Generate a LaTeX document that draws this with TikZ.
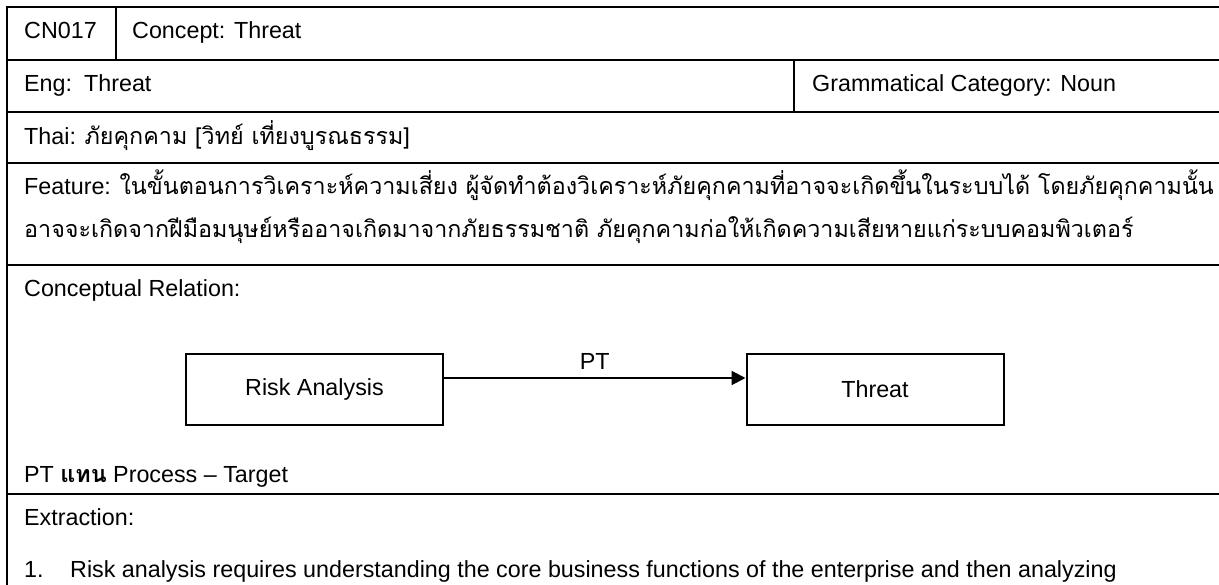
\documentclass[tikz,border=0pt]{standalone}
\usepackage{fontspec}
\setmainfont{Liberation Sans}
\newfontfamily\thaifont[Script=Thai]{Loma}
\usetikzlibrary{arrows.meta}
\begin{document}
\begin{tikzpicture}[x=1pt,y=-1pt,
  txt/.style={anchor=base west, inner sep=0pt, font=\fontsize{23.3}{28}\selectfont},
  rule/.style={line width=2.3pt},
  conceptbox/.style={draw, line width=2pt, minimum width=257pt, minimum height=71pt,
    inner sep=0pt, font=\fontsize{23.3}{28}\selectfont},
  rel/.style={line width=2pt, -{Triangle[length=14pt,width=14pt]}}]
\useasboundingbox (0,0) rectangle (1219,585);

% table rules
\draw[rule] (7,585) -- (7,7) -- (1219,7);
\foreach \yy in {60,112,163,265,494} \draw[rule] (7,\yy) -- (1219,\yy);
\draw[rule] (116,7) -- (116,60);
\draw[rule] (794,60) -- (794,112);

% row texts
\node[txt] (id) at (24,39) {CN017};
\node[txt] (concept) at (132,39) {Concept: Threat};
\node[txt] (eng) at (24,92) {Eng:\hspace{12pt}Threat};
\node[txt] (gram) at (812,92) {Grammatical Category: Noun};
\node[txt] (thai) at (24,145) {Thai: {\thaifont ภัยคุกคาม [วิทย์ เที่ยงบูรณธรรม]}};
\node[txt] (feat1) at (24,195) {Feature: {\thaifont ในขั้นตอนการวิเคราะห์ความเสี่ยง ผู้จัดทำต้องวิเคราะห์ภัยคุกคามที่อาจจะเกิดขึ้นในระบบได้ โดยภัยคุกคามนั้น}};
\node[txt] (feat2) at (24,238) {\thaifont อาจจะเกิดจากฝีมือมนุษย์หรืออาจเกิดมาจากภัยธรรมชาติ ภัยคุกคามก่อให้เกิดความเสียหายแก่ระบบคอมพิวเตอร์};
\node[txt] (crel) at (24,297) {Conceptual Relation:};

% relation diagram
\node[conceptbox] (ra) at (314.5,389.5) {Risk Analysis};
\node[conceptbox] (th) at (875,389.5) {Threat};
\draw[rel] ([yshift=11.5pt]ra.east) -- node[anchor=base, yshift=8pt, inner sep=0pt,
  font=\fontsize{23.3}{28}\selectfont] (pt) {PT} ([yshift=11.5pt]th.west);

\node[txt] (legend) at (24,482) {PT {\thaifont\bfseries แทน} Process – Target};
\node[txt] (extr) at (24,525) {Extraction:};
\node[txt] (num1) at (24,577) {1.};
\node[txt] (item1) at (70,577) {Risk analysis requires understanding the core business functions of the enterprise and then analyzing};
\end{tikzpicture}
\end{document}
